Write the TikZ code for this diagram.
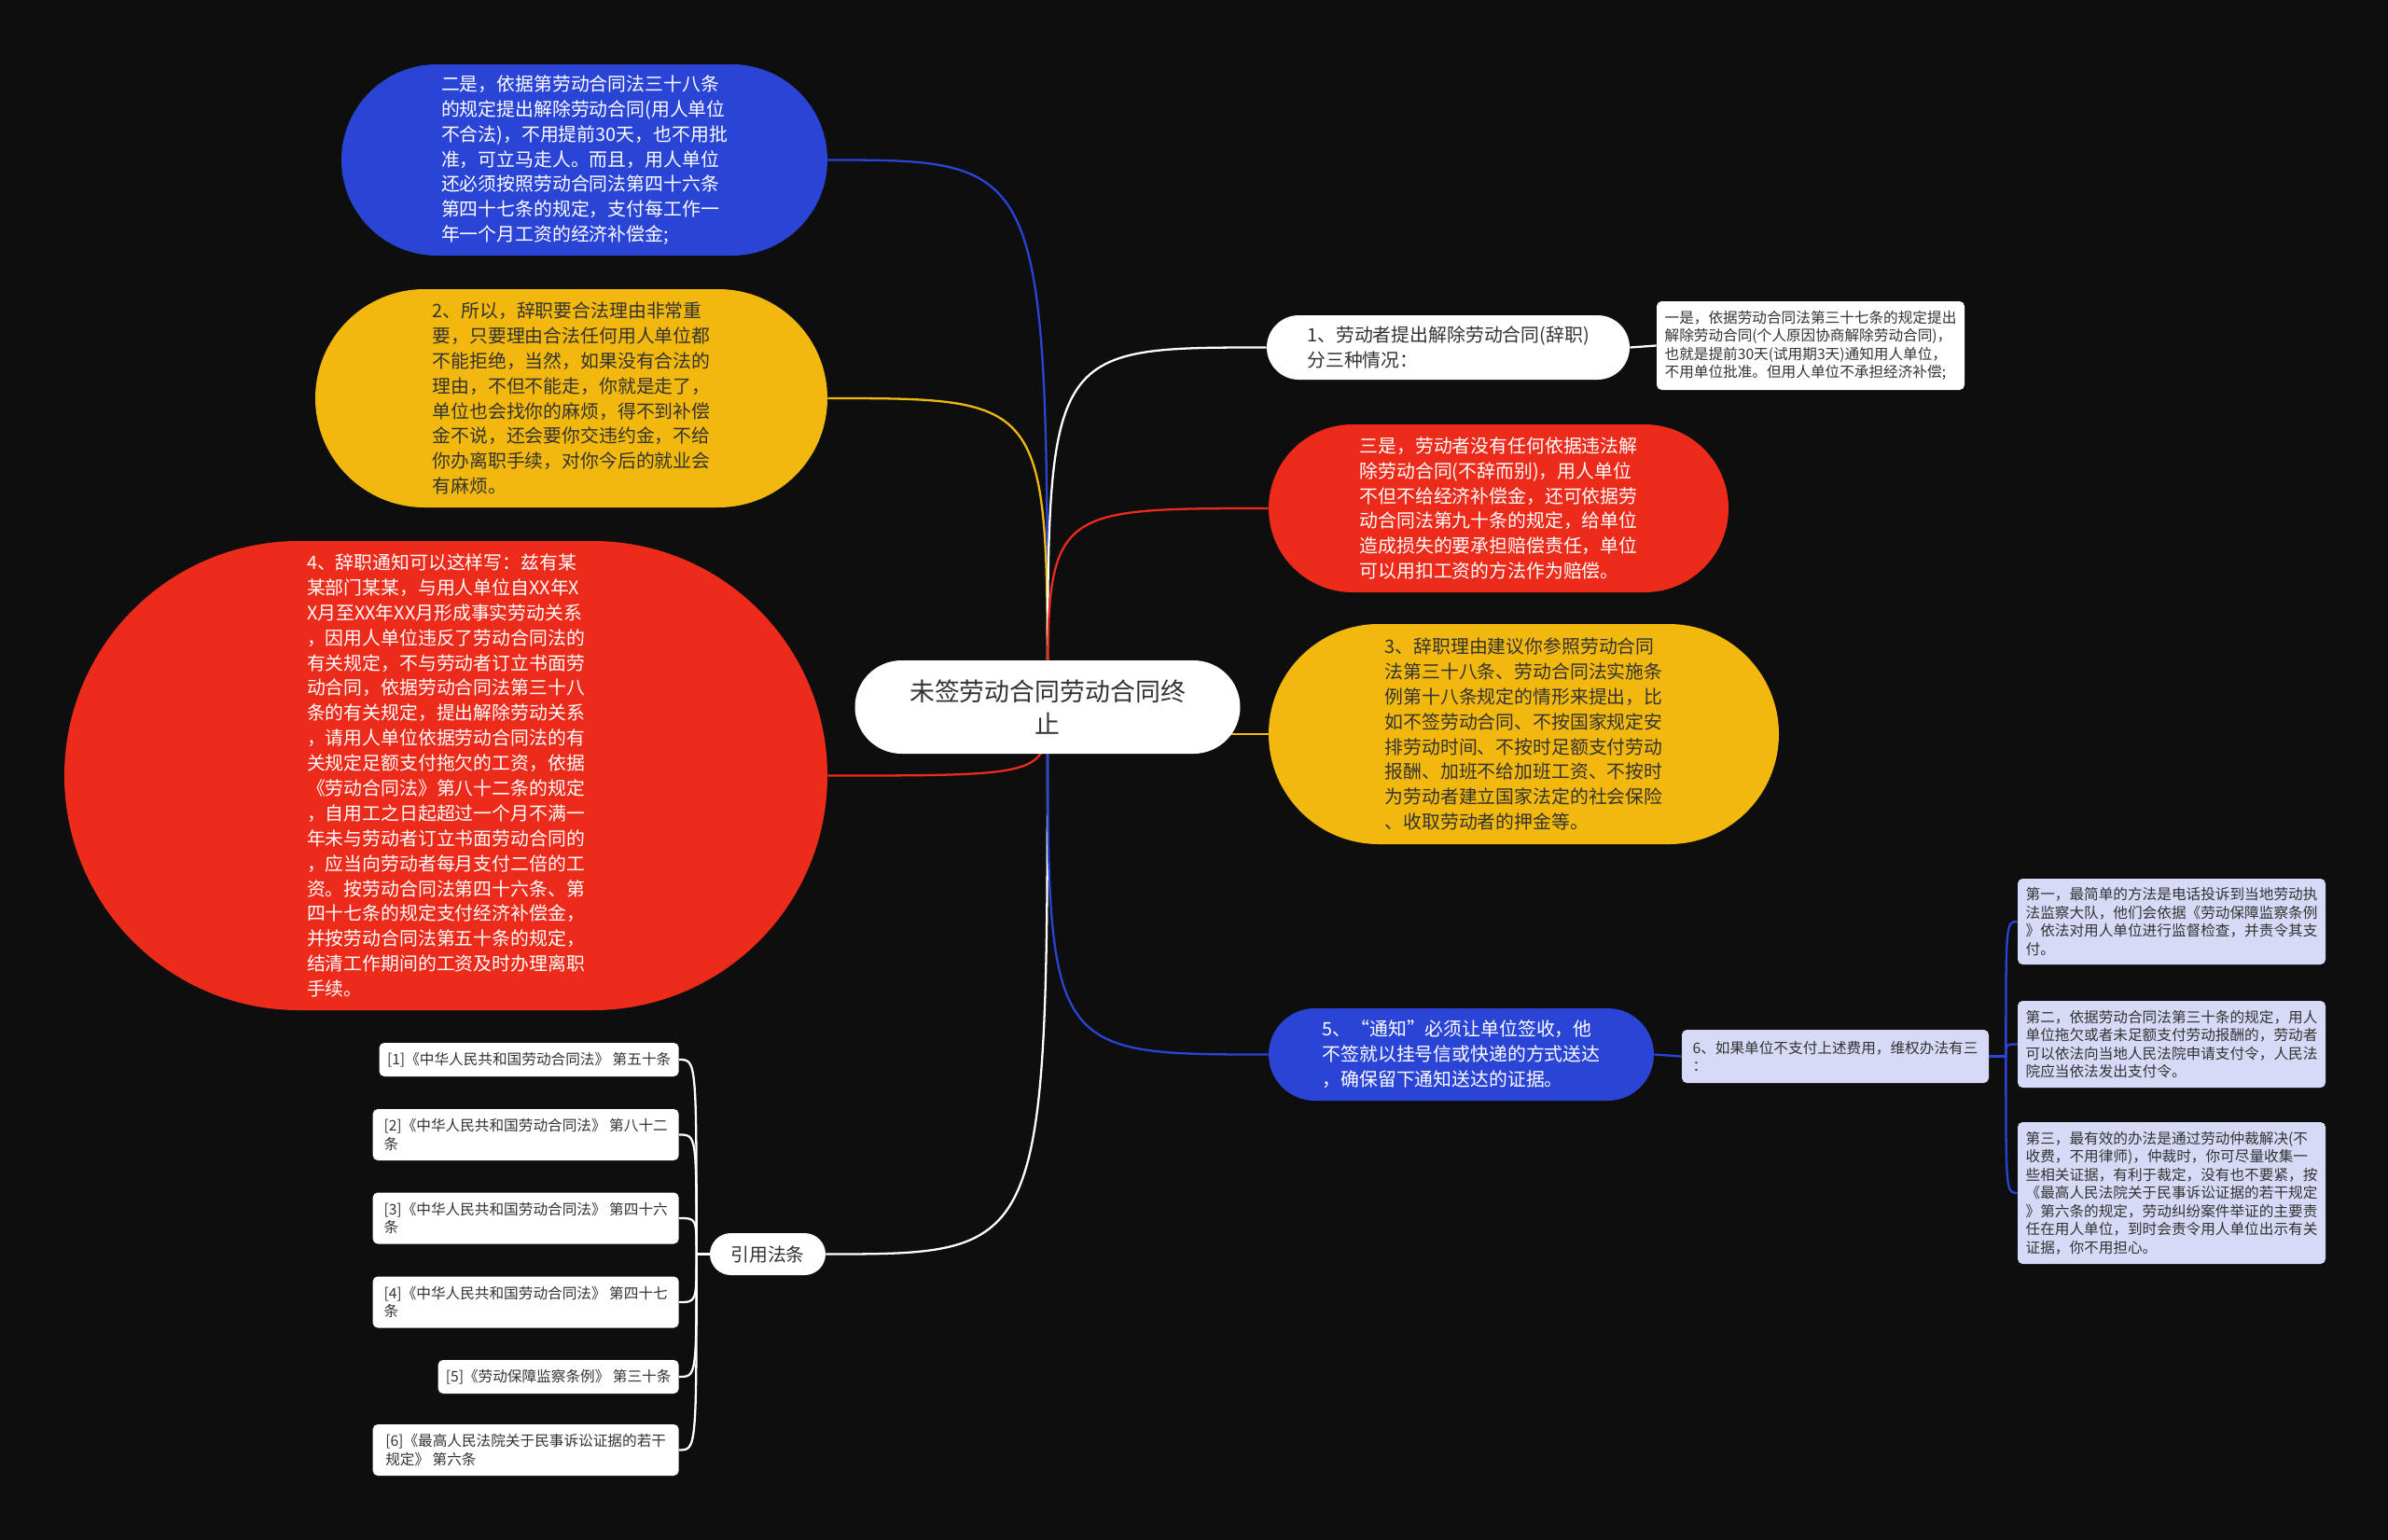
\documentclass[tikz,border=0pt]{standalone}
\usepackage{fontspec}
\setmainfont{Noto Sans CJK SC}
\definecolor{bgblack}{HTML}{0E0E0E}
\definecolor{mapblue}{HTML}{2A45D6}
\definecolor{mapyellow}{HTML}{F2B80E}
\definecolor{mapred}{HTML}{EC2B1B}
\definecolor{maplav}{HTML}{D6DAF6}
\definecolor{maptext}{HTML}{333333}
\newcommand{\bigtxt}{\fontsize{15.3pt}{19.8pt}\selectfont}
\newcommand{\midtxt}{\fontsize{11.3pt}{15.3pt}\selectfont}
\newcommand{\smalltxt}{\fontsize{8.9pt}{11.1pt}\selectfont}
\pgfdeclarelayer{bg}
\pgfdeclarelayer{lines}
\pgfsetlayers{bg,lines,main}

\begin{document}
\begin{tikzpicture}[y=-1cm, font=\midtxt,
  pill/.style={rectangle, rounded corners=#1, inner sep=0pt, align=left},
  note/.style={rectangle, rounded corners=3pt, inner sep=3pt, align=left,
    font=\smalltxt, text=maptext},
  link/.style={line width=1.3pt}]
  % 背景
  \begin{pgfonlayer}{bg}
    \fill[bgblack] (0,0) rectangle (51.2,33.02);
  \end{pgfonlayer}
  % 中心主题
  \node[pill=1cm, fill=white, text=maptext, font=\bigtxt, align=center,
    minimum width=8.26cm, minimum height=2cm] (root) at (22.46,15.16)
    {未签劳动合同劳动合同终\\止};
  % 左侧分支
  \node[pill=2.05cm, fill=mapblue, text=white, minimum width=10.42cm,
    minimum height=4.1cm] (blueL) at (12.53,3.43)
    {二是，依据第劳动合同法三十八条\\的规定提出解除劳动合同(用人单位\\不合法)，不用提前30天，也不用批\\准，可立马走人。而且，用人单位\\还必须按照劳动合同法第四十六条\\第四十七条的规定，支付每工作一\\年一个月工资的经济补偿金;};
  \node[pill=2.34cm, fill=mapyellow, text=maptext, minimum width=10.98cm,
    minimum height=4.68cm] (yellowL) at (12.25,8.54)
    {2、所以，辞职要合法理由非常重\\要，只要理由合法任何用人单位都\\不能拒绝，当然，如果没有合法的\\理由，不但不能走，你就是走了，\\单位也会找你的麻烦，得不到补偿\\金不说，还会要你交违约金，不给\\你办离职手续，对你今后的就业会\\有麻烦。};
  \node[pill=5.03cm, fill=mapred, text=white, minimum width=16.36cm,
    minimum height=10.06cm] (redL) at (9.56,16.63)
    {4、辞职通知可以这样写：兹有某\\某部门某某，与用人单位自XX年X\\X月至XX年XX月形成事实劳动关系\\，因用人单位违反了劳动合同法的\\有关规定，不与劳动者订立书面劳\\动合同，依据劳动合同法第三十八\\条的有关规定，提出解除劳动关系\\，请用人单位依据劳动合同法的有\\关规定足额支付拖欠的工资，依据\\《劳动合同法》第八十二条的规定\\，自用工之日起超过一个月不满一\\年未与劳动者订立书面劳动合同的\\，应当向劳动者每月支付二倍的工\\资。按劳动合同法第四十六条、第\\四十七条的规定支付经济补偿金，\\并按劳动合同法第五十条的规定，\\结清工作期间的工资及时办理离职\\手续。};
  \node[pill=0.45cm, fill=white, text=maptext, minimum width=2.48cm,
    minimum height=0.9cm] (refs) at (16.46,26.89) {引用法条};
  % 引用法条
  \node[note, fill=white, anchor=east, minimum width=6.42cm, minimum height=0.72cm]
    (ref1) at (14.56,22.72) {[1]《中华人民共和国劳动合同法》 第五十条};
  \node[note, fill=white, anchor=east, minimum width=6.56cm, minimum height=1.1cm]
    (ref2) at (14.56,24.33) {[2]《中华人民共和国劳动合同法》 第八十二\\条};
  \node[note, fill=white, anchor=east, minimum width=6.56cm, minimum height=1.1cm]
    (ref3) at (14.56,26.12) {[3]《中华人民共和国劳动合同法》 第四十六\\条};
  \node[note, fill=white, anchor=east, minimum width=6.56cm, minimum height=1.1cm]
    (ref4) at (14.56,27.92) {[4]《中华人民共和国劳动合同法》 第四十七\\条};
  \node[note, fill=white, anchor=east, minimum width=5.16cm, minimum height=0.72cm]
    (ref5) at (14.56,29.52) {[5]《劳动保障监察条例》 第三十条};
  \node[note, fill=white, anchor=east, minimum width=6.56cm, minimum height=1.1cm]
    (ref6) at (14.56,31.09) {[6]《最高人民法院关于民事诉讼证据的若干\\规定》 第六条};
  % 右侧分支
  \node[pill=0.69cm, fill=white, text=maptext, minimum width=7.78cm,
    minimum height=1.38cm] (one) at (31.05,7.45)
    {1、劳动者提出解除劳动合同(辞职)\\分三种情况：};
  \node[note, fill=white, minimum width=6.6cm, minimum height=1.9cm]
    (first) at (38.82,7.41)
    {一是，依据劳动合同法第三十七条的规定提出\\解除劳动合同(个人原因协商解除劳动合同)，\\也就是提前30天(试用期3天)通知用人单位，\\不用单位批准。但用人单位不承担经济补偿;};
  \node[pill=1.8cm, fill=mapred, text=white, minimum width=9.86cm,
    minimum height=3.6cm] (redR) at (32.13,10.9)
    {三是，劳动者没有任何依据违法解\\除劳动合同(不辞而别)，用人单位\\不但不给经济补偿金，还可依据劳\\动合同法第九十条的规定，给单位\\造成损失的要承担赔偿责任，单位\\可以用扣工资的方法作为赔偿。};
  \node[pill=2.36cm, fill=mapyellow, text=maptext, minimum width=10.94cm,
    minimum height=4.72cm] (yellowR) at (32.67,15.74)
    {3、辞职理由建议你参照劳动合同\\法第三十八条、劳动合同法实施条\\例第十八条规定的情形来提出，比\\如不签劳动合同、不按国家规定安\\排劳动时间、不按时足额支付劳动\\报酬、加班不给加班工资、不按时\\为劳动者建立国家法定的社会保险\\、收取劳动者的押金等。};
  \node[pill=0.99cm, fill=mapblue, text=white, minimum width=8.26cm,
    minimum height=1.98cm] (blueR) at (31.33,22.61)
    {5、“通知”必须让单位签收，他\\不签就以挂号信或快递的方式送达\\，确保留下通知送达的证据。};
  \node[note, fill=maplav, minimum width=6.58cm, minimum height=1.14cm]
    (six) at (39.35,22.65) {6、如果单位不支付上述费用，维权办法有三\\：};
  % 维权办法
  \node[note, fill=maplav, minimum width=6.6cm, minimum height=1.84cm]
    (way1) at (46.56,19.76)
    {第一，最简单的方法是电话投诉到当地劳动执\\法监察大队，他们会依据《劳动保障监察条例\\》依法对用人单位进行监督检查，并责令其支\\付。};
  \node[note, fill=maplav, minimum width=6.6cm, minimum height=1.86cm]
    (way2) at (46.56,22.39)
    {第二，依据劳动合同法第三十条的规定，用人\\单位拖欠或者未足额支付劳动报酬的，劳动者\\可以依法向当地人民法院申请支付令，人民法\\院应当依法发出支付令。};
  \node[note, fill=maplav, minimum width=6.6cm, minimum height=3.04cm]
    (way3) at (46.56,25.58)
    {第三，最有效的办法是通过劳动仲裁解决(不\\收费，不用律师)，仲裁时，你可尽量收集一\\些相关证据，有利于裁定，没有也不要紧，按\\《最高人民法院关于民事诉讼证据的若干规定\\》第六条的规定，劳动纠纷案件举证的主要责\\任在用人单位，到时会责令用人单位出示有关\\证据，你不用担心。};
  % 连线
  \coordinate (rj) at ([xshift=-0.28cm]refs.west);
  \coordinate (wj) at ([xshift=0.36cm]six.east);
  \begin{pgfonlayer}{lines}
    \draw[link, mapblue] (root.center) .. controls (root.center |- blueL.east) .. (blueL.east);
    \draw[link, mapyellow] (root.center) .. controls (root.center |- yellowL.east) .. (yellowL.east);
    \draw[link, mapred] (root.center) .. controls (root.center |- redL.east) .. (redL.east);
    \draw[link, white] (root.center) .. controls (root.center |- refs.east) .. (refs.east);
    \draw[link, white] (root.center) .. controls (root.center |- one.west) .. (one.west);
    \draw[link, mapred] (root.center) .. controls (root.center |- redR.west) .. (redR.west);
    \draw[link, mapyellow] (root.center |- yellowR.west) -- (yellowR.west);
    \draw[link, mapblue] (root.center) .. controls (root.center |- blueR.west) .. (blueR.west);
    \draw[link, white] (one.east) -- (first.west);
    \draw[link, mapblue] (blueR.east) -- (six.west);
    \draw[link, mapblue] (six.east) -- (wj);
    \foreach \w in {way1,way2,way3}
      \draw[link, mapblue] (wj) .. controls (wj |- \w.west) .. (\w.west);
    \draw[link, white] (refs.west) -- (rj);
    \foreach \r in {ref1,ref2,ref3,ref4,ref5,ref6}
      \draw[link, white] (rj) .. controls (rj |- \r.east) .. (\r.east);
  \end{pgfonlayer}
\end{tikzpicture}
\end{document}
